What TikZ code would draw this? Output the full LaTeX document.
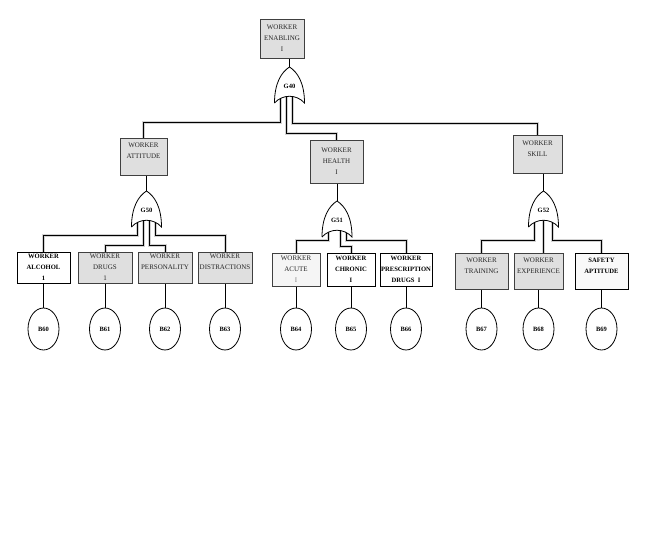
\documentclass[tikz,border=0pt]{standalone}
\usepackage{fontspec}
\setmainfont{Liberation Serif}
\usetikzlibrary{shapes.geometric,backgrounds}

\tikzset{
  box/.style={rectangle, draw=black!75, line width=0.6pt, fill=gray!25, text=black!85, align=center, inner sep=1pt, font=\fontsize{7}{11}\selectfont},
  wbox/.style={box, draw=black, line width=1pt, fill=white, text=black, font=\fontsize{6.6}{11}\selectfont\bfseries},
  basic/.style={ellipse, draw=black, line width=0.8pt, fill=white, minimum width=31pt, minimum height=42pt, inner sep=0pt, font=\fontsize{6.5}{7}\selectfont\bfseries},
  gatelbl/.style={inner sep=0pt, font=\fontsize{6.5}{7}\selectfont\bfseries},
  wire/.style={draw=black, line width=0.6pt, preaction={draw=gray!35, line width=3pt}},
  pics/orgate/.style={code={
    \draw[fill=white, line width=0.8pt] (-15,0) .. controls (-15,-20) and (-8,-31) .. (0,-36)
      .. controls (8,-31) and (15,-20) .. (15,0) .. controls (7,-9) and (-7,-9) .. (-15,0);
    \node[gatelbl] (-lbl) at (0,-17) {#1};
    \coordinate (-top) at (0,-36);
    \coordinate (-a) at (-9,-7);
    \coordinate (-b) at (-3,-7);
    \coordinate (-mid) at (0,-7);
    \coordinate (-c) at (3,-7);
    \coordinate (-d) at (9,-7);
  }}
}

\begin{document}
\begin{tikzpicture}[x=1pt, y=-1pt]
\useasboundingbox (0,0) rectangle (658,538);

% top level
\node[box, minimum width=44pt, minimum height=39pt] (enabling) at (282,38.5) {WORKER\\ENABLING\\I};
\pic (g40) at (289.5,103) {orgate=G40};

% second level
\node[box, minimum width=47pt, minimum height=37pt] (attitude) at (143.5,156.5) {WORKER\\ATTITUDE\\~};
\node[box, minimum width=53pt, minimum height=43pt] (health) at (336.5,161.5) {WORKER\\HEALTH\\I};
\node[box, minimum width=49pt, minimum height=38pt] (skill) at (537.5,154) {WORKER\\SKILL\\~};
\pic (g50) at (146.5,227) {orgate=G50};
\pic (g51) at (337,237) {orgate=G51};
\pic (g52) at (543.5,227) {orgate=G52};

% third level
\node[wbox, minimum width=53pt, minimum height=31pt] (alcohol) at (43.5,267.5) {WORKER\\ALCOHOL\\1};
\node[box, minimum width=54pt, minimum height=31pt] (drugs) at (105,267.5) {WORKER\\DRUGS\\1};
\node[box, minimum width=54pt, minimum height=31pt] (personality) at (165,267.5) {WORKER\\PERSONALITY\\~};
\node[box, minimum width=54pt, minimum height=31pt] (distractions) at (225,267.5) {WORKER\\DISTRACTIONS\\~};
\node[box, fill=gray!8, minimum width=48pt, minimum height=33pt] (acute) at (296,269.5) {WORKER\\ACUTE\\{\color{gray}I}};
\node[wbox, minimum width=48pt, minimum height=33pt] (chronic) at (351,269.5) {WORKER\\CHRONIC\\I};
\node[wbox, minimum width=52pt, minimum height=33pt] (prescription) at (406,269.5) {WORKER\\PRESCRIPTION\\DRUGS\ \ I};
\node[box, minimum width=53pt, minimum height=36pt] (training) at (481.5,271) {WORKER\\TRAINING\\~};
\node[box, minimum width=49pt, minimum height=36pt] (experience) at (538.5,271) {WORKER\\EXPERIENCE\\~};
\node[wbox, line width=0.7pt, fill=gray!5, minimum width=53pt, minimum height=36pt] (aptitude) at (601.5,271) {SAFETY\\APTITUDE\\~};

% basic events
\coordinate (row) at (0,329);
\foreach \src/\id in {alcohol/60, drugs/61, personality/62, distractions/63, acute/64, chronic/65, prescription/66, training/67, experience/68, aptitude/69}
  \node[basic] (b\id) at (\src |- row) {B\id};

\begin{scope}[on background layer]
\foreach \src/\id in {alcohol/60, drugs/61, personality/62, distractions/63, acute/64, chronic/65, prescription/66, training/67, experience/68, aptitude/69}
  \draw[line width=0.6pt] (\src) -- (b\id);
\draw[line width=0.6pt] (g40-top) -- (g40-top |- enabling.south);
\draw[line width=0.6pt] (g50-top) -- (g50-top |- attitude.south);
\draw[line width=0.6pt] (g51-top) -- (g51-top |- health.south);
\draw[line width=0.6pt] (g52-top) -- (g52-top |- skill.south);
\draw[wire] (g40-a) -- ++(0,26) -| (attitude.north);
\draw[wire] (g40-b) -- ++(0,37) -| (health.north);
\draw[wire] (g40-c) -- ++(0,27) -| (skill.north);
\draw[wire] (g50-a) -- ++(0,15) -| (alcohol.north);
\draw[wire] (g50-b) -- ++(0,25) -| (drugs.north);
\draw[wire] (g50-c) -- ++(0,25) -| (personality.north);
\draw[wire] (g50-d) -- ++(0,15) -| (distractions.north);
\draw[wire] (g51-a) -- ++(0,10) -| (acute.north);
\draw[wire] (g51-c) -- ++(0,16) -| (chronic.north);
\draw[wire] (g51-d) -- ++(0,10) -| (prescription.north);
\draw[wire] (g52-a) -- ++(0,20) -| (training.north);
\draw[wire] (g52-mid) -- (g52-mid |- experience.north);
\draw[wire] (g52-d) -- ++(0,20) -| (aptitude.north);
\end{scope}
\end{tikzpicture}
\end{document}
